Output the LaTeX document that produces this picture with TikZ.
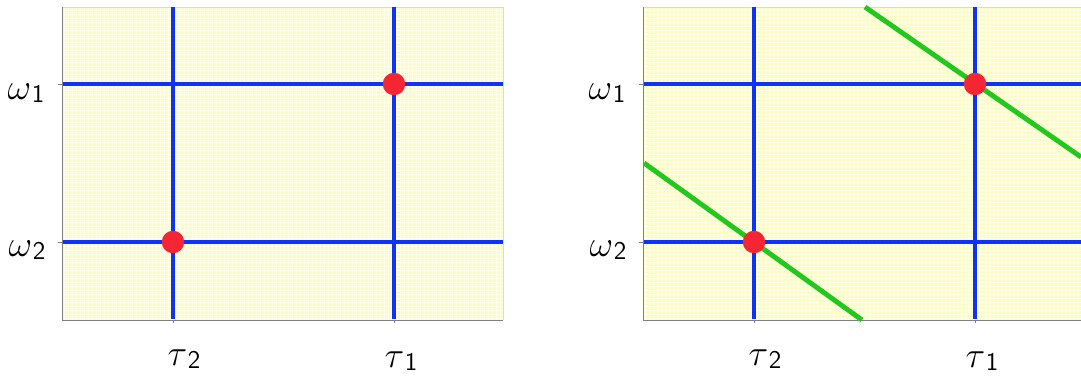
\documentclass[tikz,border=0pt]{standalone}
\definecolor{plotblue}{RGB}{14,50,250}
\definecolor{plotred}{RGB}{245,38,52}
\definecolor{plotgreen}{RGB}{34,200,30}
\definecolor{plotback}{RGB}{252,252,192}
\definecolor{plotgrid}{RGB}{255,255,238}
\newcommand\axlab[2]{\fontsize{20}{20}\selectfont$#1$\kern.5pt\raisebox{-2pt}{\fontsize{14.5}{14.5}\selectfont\sffamily #2}}
\begin{document}
\begin{tikzpicture}[x=.02cm,y=-.02cm,
    bluel/.style={plotblue,line width=2.8pt},
    greenl/.style={plotgreen,line width=2.8pt},
    dot/.style={circle,fill=plotred,inner sep=0pt,minimum size=.45cm},
    gridl/.style={plotgrid,line width=.4pt},
    lab/.style={inner sep=0pt}]
\useasboundingbox (0,0) rectangle (1081,376);
\foreach \dx/\n in {0/a,581/b}{
  \begin{scope}[xshift={\dx*.02cm}]
  \clip (-10,0) rectangle ({1081-\dx},376);
  % background and grid
  \fill[plotback] (62,7) rectangle (503,320);
  \foreach \g in {64,68,...,500} \draw[gridl] (\g,7)--(\g,320);
  \foreach \g in {10,14,...,318} \draw[gridl] (62,\g)--(503,\g);
  \draw[black!15] (62,7)--(503,7)--(503,320);
  \draw[black!50] (62,7)--(62,320)--(503,320);
  \draw[black!50] (58,84)--(62,84) (58,242)--(62,242) (173,320)--(173,323) (394,320)--(394,323);
  % grid of levels
  \draw[bluel] (173,7)--(173,319);
  \draw[bluel] (394,7)--(394,319);
  \draw[bluel] (63,84)--(503,84);
  \draw[bluel] (63,242)--(503,242);
  \ifnum\dx>0
    \coordinate (g1s) at (284,7);
    \coordinate (g1e) at (500,157);
    \coordinate (g2s) at (63,163);
    \coordinate (g2e) at (281,320);
    \draw[greenl] (g1s)--(g1e);
    \draw[greenl] (g2s)--(g2e);
  \fi
  \node[dot] (w1\n) at (394,84) {};
  \node[dot] (w2\n) at (173,242) {};
  % labels
  \node[lab] (lw1\n) at (26,93) {\axlab{\omega}{1}};
  \node[lab] (lw2\n) at (27,250) {\axlab{\omega}{2}};
  \node[lab] (lt2\n) at (184,359) {\axlab{\tau}{2}};
  \node[lab] (lt1\n) at (401,361) {\axlab{\tau}{1}};
  \end{scope}
}
\end{tikzpicture}
\end{document}
